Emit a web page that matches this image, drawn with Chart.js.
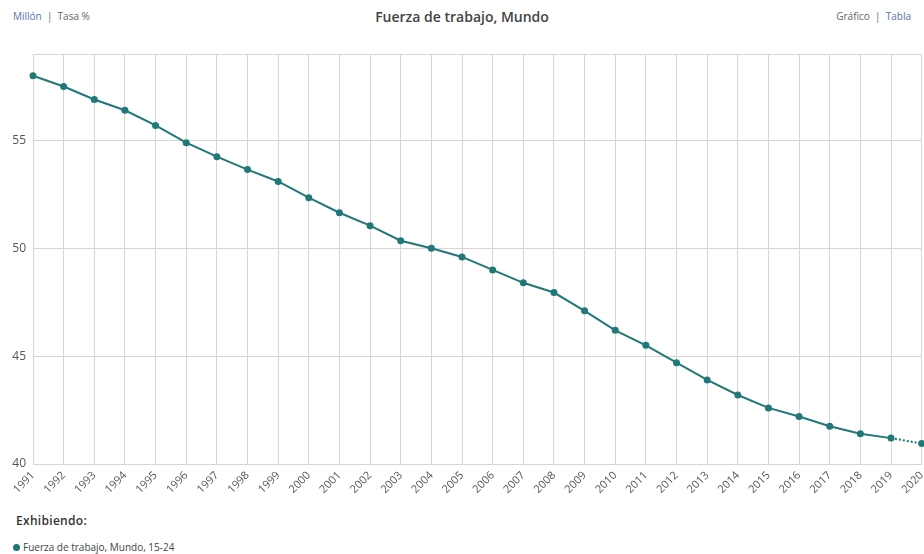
<!DOCTYPE html>
<html lang="es">
<head>
<meta charset="utf-8">
<script src="https://cdn.jsdelivr.net/npm/chart.js@4/dist/chart.umd.min.js"></script>
<style>
  html, body { margin: 0; padding: 0; background: #fff; }
  body { width: 924px; height: 554px; position: relative; overflow: hidden; font-family: "Open Sans", sans-serif; }
  .hdr { position: absolute; top: 9px; font-size: 10px; color: #666; }
  .hdr .on { color: #5a73b0; }
  #title { position: absolute; top: 7px; left: 0; width: 924px; text-align: center; font-size: 14px; font-weight: 600; color: #444; }
  #chart-box { position: absolute; left: 0; top: 40px; width: 936px; height: 464px; }
  #foot1 { position: absolute; left: 16px; top: 512px; font-size: 12px; font-weight: 600; color: #333; letter-spacing: 0.3px; }
  #foot2 { position: absolute; left: 13px; top: 540px; font-size: 10px; color: #444; }
  #foot2 .dot { display: inline-block; width: 7px; height: 7px; border-radius: 50%; background: #1f7676; margin-right: 3px; vertical-align: 0px; }
</style>
</head>
<body>
<div class="hdr" style="left:13px;"><span class="on">Millón</span> &nbsp;|&nbsp; Tasa %</div>
<div id="title">Fuerza de trabajo, Mundo</div>
<div class="hdr" style="right:13px;">Gráfico &nbsp;|&nbsp; <span class="on">Tabla</span></div>
<div id="chart-box"><canvas id="c"></canvas></div>
<div id="foot1">Exhibiendo:</div>
<div id="foot2"><span class="dot"></span>Fuerza de trabajo, Mundo, 15-24</div>
<script>
// --- data ---
const years = ['1991','1992','1993','1994','1995','1996','1997','1998','1999','2000',
               '2001','2002','2003','2004','2005','2006','2007','2008','2009','2010',
               '2011','2012','2013','2014','2015','2016','2017','2018','2019','2020'];
const labourForce = [58.0, 57.5, 56.9, 56.4, 55.7, 54.9, 54.25, 53.65, 53.1, 52.35,
                     51.65, 51.05, 50.35, 50.0, 49.6, 49.0, 48.4, 47.95, 47.1, 46.2,
                     45.5, 44.7, 43.9, 43.2, 42.6, 42.2, 41.75, 41.4, 41.2, 40.95];
const yTicks = [40, 45, 50, 55];
const projectedFrom = 28; // index where the dotted (projected) part starts

const LINE = '#207878';
const GRID = '#d6d6d6';

new Chart(document.getElementById('c'), {
  type: 'line',
  data: {
    labels: years,
    datasets: [{
      label: 'Fuerza de trabajo, Mundo, 15-24',
      data: labourForce,
      borderColor: LINE,
      backgroundColor: LINE,
      borderWidth: 2,
      pointRadius: 3.5,
      pointBackgroundColor: LINE,
      pointBorderWidth: 0,
      tension: 0,
      clip: false,
      segment: {
        borderDash: ctx => ctx.p0DataIndex >= projectedFrom ? [2, 2] : undefined,
      },
    }],
  },
  options: {
    responsive: true,
    maintainAspectRatio: false,
    animation: false,
    layout: { padding: { top: 14, right: 0, left: 0, bottom: 0 } },
    plugins: { legend: { display: false }, tooltip: { enabled: false } },
    scales: {
      x: {
        offset: false,
        grid: { color: GRID, drawTicks: false },
        border: { color: GRID },
        ticks: {
          color: '#555', font: { family: 'Open Sans', size: 11 },
          maxRotation: 45, minRotation: 45, autoSkip: false, padding: 5,
        },
        afterFit: s => { s.height = 40; },
      },
      y: {
        min: 40, max: 59,
        grid: { color: GRID, drawTicks: false },
        border: { display: false },
        afterBuildTicks: s => { s.ticks = yTicks.concat([59]).map(v => ({ value: v })); },
        ticks: {
          color: '#555', font: { family: 'Open Sans', size: 12 }, padding: 7,
          callback: v => yTicks.includes(v) ? v : '',
        },
        afterFit: s => { s.width = 33; },
      },
    },
  },
});
</script>
</body>
</html>
